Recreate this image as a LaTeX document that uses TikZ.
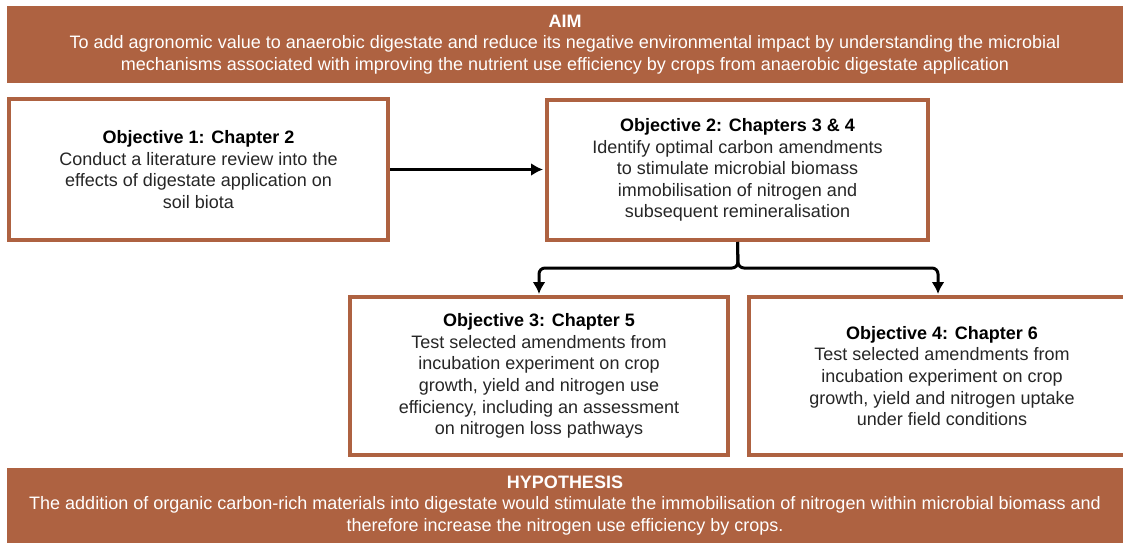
\documentclass[tikz,border=0pt]{standalone}
\usepackage{fontspec}
\setmainfont{Liberation Sans}
\usetikzlibrary{arrows.meta}
\definecolor{rust}{HTML}{AE6241}
\definecolor{bodytext}{HTML}{262626}
\tikzset{
  banner/.style={rectangle, fill=rust, text=white, align=center, inner sep=0pt,
    font=\fontsize{18}{21.8}\selectfont},
  objbox/.style={rectangle, draw=rust, line width=4pt, fill=white, align=center,
    inner sep=0pt, text=bodytext, font=\fontsize{18}{21.6}\selectfont},
  arr/.style={line width=3pt, -{Latex[length=12pt,width=13pt]}}
}
\begin{document}
\begin{tikzpicture}[x=1pt,y=-1pt]
\useasboundingbox (0,0) rectangle (1123,543);
\node[banner, minimum width=1116pt, minimum height=77pt] (aim) at (565,44.5)
  {\textbf{AIM}\\
   To add agronomic value to anaerobic digestate and reduce its negative environmental impact by understanding the microbial\\
   mechanisms associated with improving the nutrient use efficiency by crops from anaerobic digestate application};
\node[banner, minimum width=1116pt, minimum height=75pt] (hyp) at (565,505.5)
  {\textbf{HYPOTHESIS}\\
   The addition of organic carbon-rich materials into digestate would stimulate the immobilisation of nitrogen within microbial biomass and\\
   therefore increase the nitrogen use efficiency by crops.};
\node[objbox, minimum width=379pt, minimum height=141pt] (o1) at (198.5,169.5)
  {\textcolor{black}{\textbf{Objective 1: Chapter 2}}\\
   Conduct a literature review into the\\
   effects of digestate application on\\
   soil biota};
\node[objbox, minimum width=381pt, minimum height=140pt] (o2) at (737.5,170)
  {\textcolor{black}{\textbf{Objective 2: Chapters 3 \& 4}}\\
   Identify optimal carbon amendments\\
   to stimulate microbial biomass\\
   immobilisation of nitrogen and\\
   subsequent remineralisation};
\node[objbox, minimum width=378pt, minimum height=158pt] (o3) at (539,376)
  {\textcolor{black}{\textbf{Objective 3: Chapter 5}}\\
   Test selected amendments from\\
   incubation experiment on crop\\
   growth, yield and nitrogen use\\
   efficiency, including an assessment\\
   on nitrogen loss pathways};
\node[objbox, minimum width=386pt, minimum height=158pt] (o4) at (942,376)
  {\textcolor{black}{\textbf{Objective 4: Chapter 6}}\\
   Test selected amendments from\\
   incubation experiment on crop\\
   growth, yield and nitrogen uptake\\
   under field conditions};
\coordinate (j) at (738,268);
\draw[arr, shorten >=2pt] (o1.east) -- (o1.east -| o2.west);
\draw[arr, rounded corners=6pt, shorten >=1pt] (o2.south) -- (j) -| (o3.north);
\draw[arr, rounded corners=6pt, shorten >=1pt] (o2.south) -- (j) -| ([xshift=-4pt]o4.north);
\end{tikzpicture}
\end{document}
